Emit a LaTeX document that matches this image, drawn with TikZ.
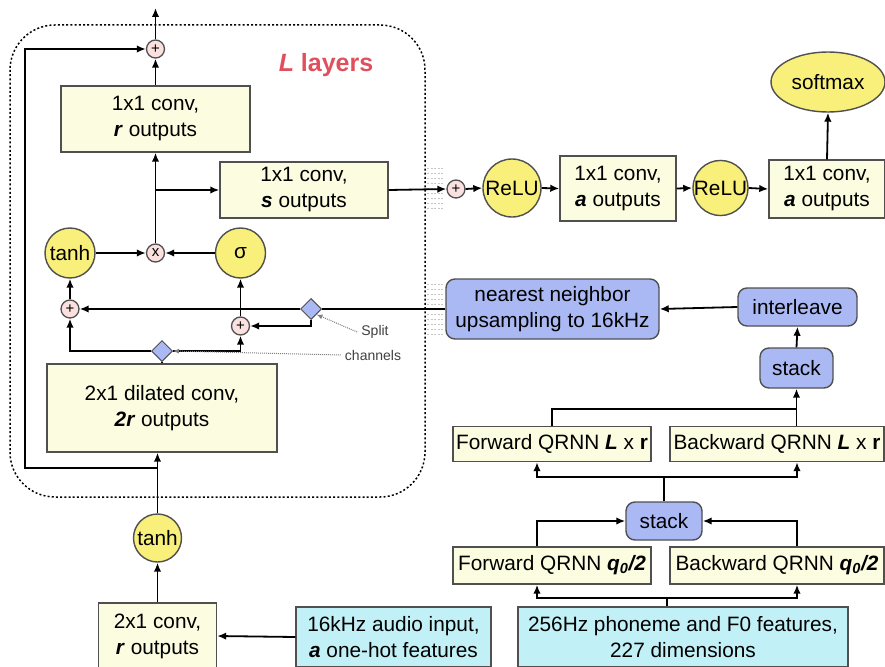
\documentclass[tikz,border=0pt]{standalone}
\usepackage{fontspec}
\setmainfont{Liberation Sans}
\usetikzlibrary{arrows.meta,shapes.geometric}
\definecolor{convfill}{HTML}{FCFCE0}
\definecolor{actfill}{HTML}{F8F07A}
\definecolor{opfill}{HTML}{FBE0E0}
\definecolor{blufill}{HTML}{AAB9F4}
\definecolor{cyanfill}{HTML}{C2F0F7}
\definecolor{edgegray}{HTML}{505050}
\definecolor{layerred}{HTML}{E0505C}
\newcommand{\bi}[1]{\textbf{\textit{#1}}}
\begin{document}
\begin{tikzpicture}[x=1pt,y=-1pt,
  font=\fontsize{20.8}{26}\selectfont,
  >={Latex[length=9pt,width=7.5pt]},
  line width=1.8pt,
  conv/.style={draw=edgegray, fill=convfill, line width=1.4pt, inner sep=0pt, align=center},
  feat/.style={draw=edgegray, fill=cyanfill, line width=1.4pt, inner sep=0pt, align=center},
  blu/.style={draw=edgegray, fill=blufill, line width=1.4pt, inner sep=0pt, align=center, rounded corners=9pt},
  act/.style={circle, draw=edgegray, fill=actfill, line width=1.4pt, inner sep=0pt},
  op/.style={circle, draw=edgegray, fill=opfill, line width=1.3pt, inner sep=0pt, minimum size=18pt, font=\fontsize{15}{15}\selectfont},
  split/.style={diamond, draw=edgegray, fill=blufill, line width=1pt, inner sep=0pt, minimum size=21pt},
  hint/.style={draw=gray, densely dotted, line width=1pt, -{Latex[length=6pt,width=5pt]}},
  ghost/.style={draw=gray!45, line width=0.8pt, dash pattern=on 2pt off 1.5pt}]
\useasboundingbox (0,0) rectangle (885,666);

% ---- the repeated residual layer ----
\draw[line width=1.5pt, dash pattern=on 2pt off 2.2pt, rounded corners=45pt] (10,25) rectangle (425,497);
\node[text=layerred, font=\fontsize{25}{27}\selectfont\bfseries] (ltitle) at (326,65) {\textit{L} layers};

\node[op] (plusTop) at (155.5,49) {+};
\coordinate (outTop) at (155.5,8);
\node[conv, minimum width=189pt, minimum height=66pt] (rbox) at (155.5,119) {1x1 conv,\\\bi{r} outputs};
\node[conv, minimum width=168pt, minimum height=56pt] (sbox) at (304,190) {1x1 conv,\\\bi{s} outputs};
\node[op] (mul) at (155.5,253) {x};
\node[act, minimum size=50pt] (tanhA) at (70,253) {tanh};
\node[act, minimum size=50pt] (sig) at (240.5,253) {σ};
\node[op] (plusL) at (70,309) {+};
\node[op] (plusR) at (240.5,326) {+};
\node[split] (splitA) at (311,309) {};
\node[split] (splitB) at (162,351) {};
\node[conv, minimum width=230pt, minimum height=88pt] (dil) at (162,408) {2x1 dilated conv,\\\bi{2r} outputs};
\node[font=\fontsize{14}{16}\selectfont, text=black!75] (lblSplit) at (375,332) {Split};
\node[font=\fontsize{14}{16}\selectfont, text=black!75] (lblChan) at (373,355) {channels};

\draw[->] (plusTop.north) -- (outTop);
\draw[->] (rbox.north) -- (plusTop.south);
\draw[->] (mul.north) -- (rbox.south);
\coordinate (sBranch) at (155.5,190);
\draw[->] (sBranch) -- (sbox.west);
\draw[->] (tanhA.east) -- (mul.west);
\draw[->] (sig.west) -- (mul.east);
\draw[->] (plusL.north) -- (tanhA.south);
\draw[->] (plusR.north) -- (sig.south);
\draw[->] (splitA.west) -- (plusL.east);
\draw[->] (splitA.south) |- (plusR.east);
\draw[->] (splitB.west) -| (plusL.south);
\draw[->] (splitB.east) -| (plusR.south);
\draw (dil.north) -- (splitB.south);
\draw[hint] (lblSplit.west) -- (splitA.south east);
\draw[hint] (lblChan.west) -- (splitB.east);

% ---- input stack ----
\node[act, minimum size=48pt] (tanhB) at (157.5,538) {tanh};
\node[conv, minimum width=118pt, minimum height=66pt] (conv2) at (157.5,636) {2x1 conv,\\\bi{r} outputs};
\node[feat, minimum width=195pt, minimum height=60pt] (audio) at (393.5,637) {16kHz audio input,\\\bi{a} one-hot features};
\draw[->] (audio.west) -- (conv2.east);
\draw[->] (conv2.north) -- (tanhB.south);
\draw[->] (tanhB.north) -- (tanhB.north |- dil.south);
\coordinate (resJ) at (157.5,468);
\draw[->] (resJ) -- (25,468) |- (plusTop.west);

% ---- skip outputs to the softmax ----
\foreach \yy in {168,173,...,210} \draw[ghost] (427,\yy) -- (444,\yy);
\foreach \yy in {284,289,...,337} \draw[ghost] (427,\yy) -- (444,\yy);
\node[op] (plusS) at (456,189) {+};
\node[act, minimum size=58pt] (relu1) at (512,188) {ReLU};
\node[conv, minimum width=116pt, minimum height=65pt] (abox) at (618,188.5) {1x1 conv,\\\bi{a} outputs};
\node[act, minimum size=55pt] (relu2) at (720.5,188) {ReLU};
\node[conv, minimum width=116pt, minimum height=58pt] (abox2) at (827,189) {1x1 conv,\\\bi{a} outputs};
\node[ellipse, draw=edgegray, fill=actfill, line width=1.4pt, inner sep=0pt, minimum width=114pt, minimum height=60pt] (softmax) at (828,82) {softmax};
\draw[->] (sbox.east) -- (plusS.west);
\draw[->] (plusS.east) -- (relu1.west);
\draw[->] (relu1.east) -- (abox.west);
\draw[->] (abox.east) -- (relu2.west);
\draw[->] (relu2.east) -- (abox2.west);
\draw[->] (abox2.north) -- (softmax.south);

% ---- conditioning features ----
\node[blu, minimum width=213pt, minimum height=60pt] (ups) at (552.5,309) {nearest neighbor\\upsampling to 16kHz};
\node[blu, minimum width=119pt, minimum height=38pt] (inter) at (797.5,307) {interleave};
\node[blu, minimum width=73pt, minimum height=40pt] (stackB) at (796.5,368) {stack};
\node[conv, minimum width=198pt, minimum height=35pt] (fL) at (552,444) {Forward QRNN \bi{L} x \textbf{r}};
\node[conv, minimum width=214pt, minimum height=35pt] (bL) at (777,444) {Backward QRNN \bi{L} x \textbf{r}};
\node[blu, minimum width=76pt, minimum height=38pt] (stackA) at (664,521) {stack};
\node[conv, minimum width=198pt, minimum height=37pt] (fq) at (552,565.5) {Forward QRNN \bi{q\textsubscript{0}/2}};
\node[conv, minimum width=214pt, minimum height=37pt] (bq) at (777,565.5) {Backward QRNN \bi{q\textsubscript{0}/2}};
\node[feat, minimum width=330pt, minimum height=60pt] (phon) at (683,637) {256Hz phoneme and F0 features,\\227 dimensions};

\draw (ups.west) -- (splitA.east);
\draw[->] (inter.west) -- (ups.east);
\draw[->] (stackB.north) -- (inter.south);
\coordinate (jL) at (796.5,409);
\draw (fL.north) |- (jL);
\draw[->] (bL.north -| stackB.south) -- (stackB.south);
\coordinate (hL) at (537,477);
\coordinate (hR) at (797,477);
\draw[->] (stackA.north) |- (hL) -- (hL |- fL.south);
\draw[->] (stackA.north |- hR) -- (hR) -- (hR |- bL.south);
\coordinate (pM) at (667,598);
\coordinate (pL) at (537,598);
\coordinate (pR) at (797,598);
\draw (pM |- phon.north) -- (pM);
\draw[->] (pM) -- (pL) -- (pL |- fq.south);
\draw[->] (pM) -- (pR) -- (pR |- bq.south);
\draw[->] (pL |- fq.north) |- (stackA.west);
\draw[->] (pR |- bq.north) |- (stackA.east);
\end{tikzpicture}
\end{document}
